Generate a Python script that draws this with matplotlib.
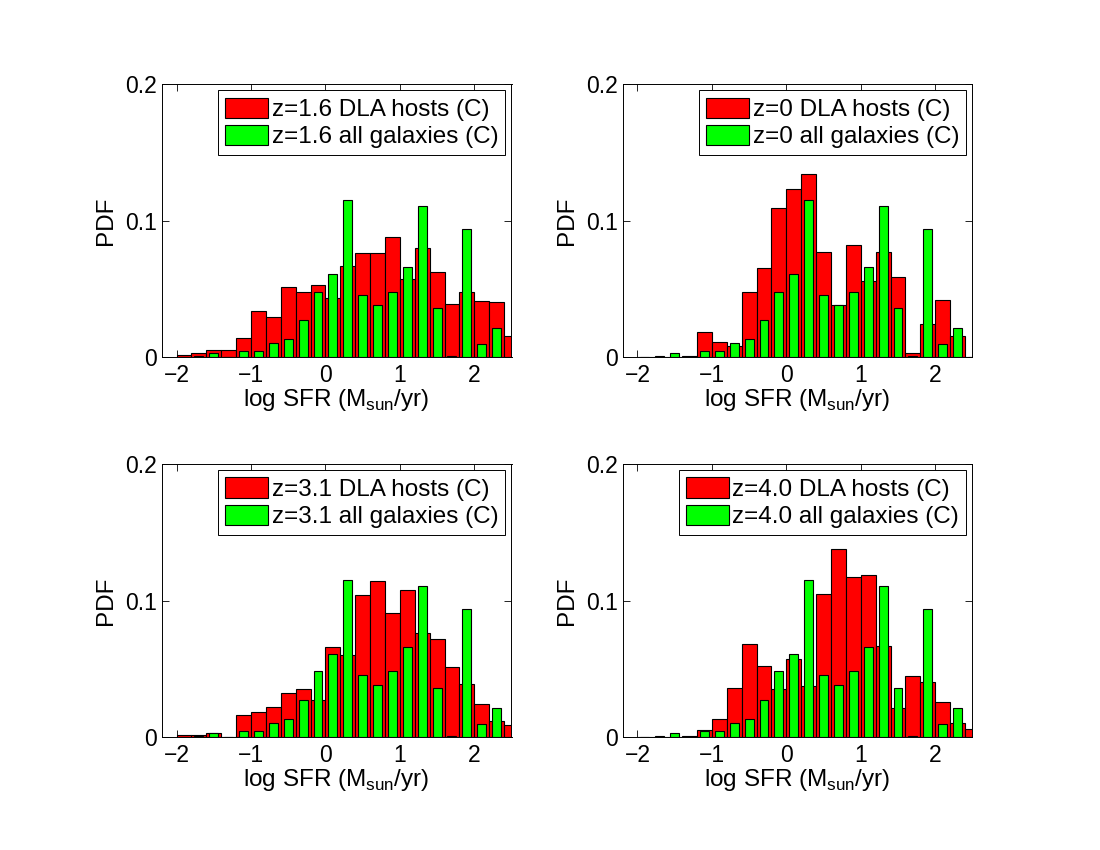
import matplotlib
matplotlib.use('Agg')
import matplotlib.pyplot as plt

plt.rcParams['font.family'] = ['Liberation Sans', 'DejaVu Sans']
plt.rcParams['font.size'] = 17

# bin centres of log SFR
centers = [-1.9, -1.7, -1.5, -1.3, -1.1, -0.9, -0.7, -0.5, -0.3, -0.1, 0.1,
           0.3, 0.5, 0.7, 0.9, 1.1, 1.3, 1.5, 1.7, 1.9, 2.1, 2.3, 2.5]

# all galaxies, same in every panel
all_gal = [0.0003, 0.0005, 0.0027, 0.0003, 0.0047, 0.0042, 0.0105, 0.013, 0.027,
           0.048, 0.061, 0.115, 0.0455, 0.038, 0.048, 0.066, 0.111, 0.036,
           0.0005, 0.094, 0.0098, 0.0212, 0.0]

# DLA hosts for each redshift
dla_z16 = [0.0015, 0.003, 0.005, 0.005, 0.014, 0.034, 0.029, 0.051, 0.048, 0.053,
           0.043, 0.067, 0.076, 0.076, 0.088, 0.057, 0.080, 0.062, 0.039, 0.048,
           0.041, 0.040, 0.0154]
dla_z0 = [0.0, 0.0003, 0.0, 0.0005, 0.018, 0.011, 0.008, 0.048, 0.065, 0.109,
          0.123, 0.134, 0.077, 0.038, 0.082, 0.056, 0.077, 0.059, 0.0027, 0.0245,
          0.042, 0.0157, 0.0]
dla_z31 = [0.0017, 0.0012, 0.0027, 0.0002, 0.0164, 0.018, 0.0218, 0.032, 0.035,
           0.027, 0.0656, 0.060, 0.104, 0.114, 0.0906, 0.108, 0.076, 0.072, 0.051,
           0.039, 0.024, 0.012, 0.0088]
dla_z40 = [0.0, 0.0, 0.0, 0.0005, 0.005, 0.013, 0.036, 0.068, 0.052, 0.035, 0.0575,
           0.037, 0.1046, 0.138, 0.117, 0.119, 0.067, 0.021, 0.045, 0.040, 0.0255,
           0.0103, 0.006]

panels = [('1.6', dla_z16), ('0', dla_z0), ('3.1', dla_z31), ('4.0', dla_z40)]

# axes positions [left, bottom, width, height] in figure fraction
positions = [[0.147, 0.580, 0.318, 0.321],
             [0.566, 0.580, 0.318, 0.321],
             [0.147, 0.133, 0.318, 0.321],
             [0.566, 0.133, 0.318, 0.321]]

fig = plt.figure(figsize=(11, 8.5), dpi=100)

for (z, dla), pos in zip(panels, positions):
    ax = fig.add_axes(pos)
    ax.bar(centers, dla, width=0.2, color='#ff0000', edgecolor='black',
           linewidth=0.8, label='z=%s DLA hosts (C)' % z)
    ax.bar(centers, all_gal, width=0.12, color='#00ff00', edgecolor='black',
           linewidth=0.8, label='z=%s all galaxies (C)' % z)
    ax.set_xlim(-2.2, 2.5)
    ax.set_ylim(0, 0.2)
    ax.set_xticks([-2, -1, 0, 1, 2])
    ax.set_yticks([0, 0.1, 0.2])
    ax.set_yticklabels(['0', '0.1', '0.2'])
    ax.tick_params(direction='in', top=True, right=True, length=5, width=0.6,
                   labelsize=16.5)
    ax.tick_params(axis='x', pad=5)
    for s in ax.spines.values():
        s.set_linewidth(0.7)
    ax.set_xlabel('log SFR (M$_{\\mathregular{sun}}$/yr)', fontsize=17.5, labelpad=0)
    ax.set_ylabel('PDF', fontsize=17.5, labelpad=6)
    leg = ax.legend(loc='upper right', fontsize=17.5, frameon=True, fancybox=False,
                    edgecolor='black', framealpha=1, borderaxespad=0.25,
                    handlelength=1.75, handleheight=0.9, handletextpad=0.15,
                    borderpad=0.3, labelspacing=0.15)
    leg.get_frame().set_linewidth(0.7)

plt.savefig('out.png', dpi=100)
